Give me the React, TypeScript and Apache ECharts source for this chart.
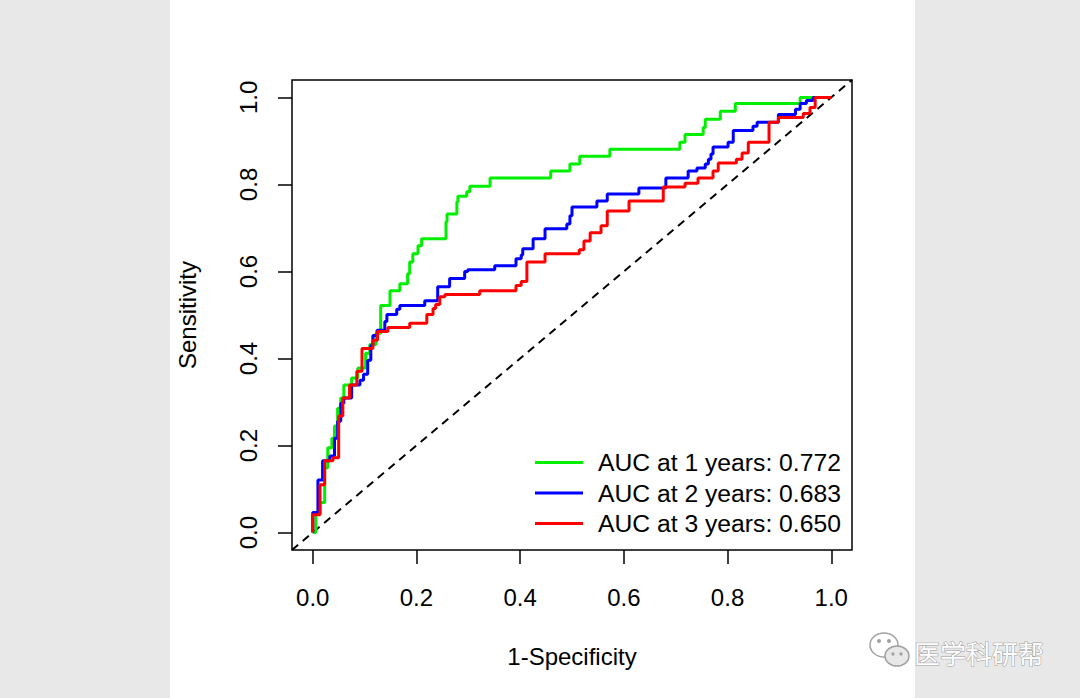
import React, { useEffect, useRef } from "react";
import * as echarts from "echarts";

const FONT = '"Liberation Sans", Arial, Helvetica, sans-serif';

const tickValues = [0, 0.2, 0.4, 0.6, 0.8, 1.0];
const legendLabels = [
  "AUC at 1 years: 0.772",
  "AUC at 2 years: 0.683",
  "AUC at 3 years: 0.650",
];
const seriesColors = ["#00ee00", "#0000ff", "#ff0000"];

// ROC corner points (1-specificity, sensitivity); steps go right, then up
const year1Fpr = [0, 0.006, 0.014, 0.023, 0.029, 0.037, 0.042, 0.048, 0.054, 0.06, 0.075, 0.087, 0.102, 0.11, 0.122, 0.131, 0.149, 0.168, 0.183, 0.187, 0.193, 0.203, 0.21, 0.257, 0.259, 0.278, 0.28, 0.297, 0.303, 0.342, 0.459, 0.496, 0.515, 0.573, 0.708, 0.718, 0.753, 0.757, 0.786, 0.815, 0.94, 1];
const year1Tpr = [0, 0.043, 0.069, 0.149, 0.195, 0.217, 0.245, 0.286, 0.309, 0.339, 0.355, 0.378, 0.412, 0.432, 0.458, 0.522, 0.556, 0.572, 0.595, 0.622, 0.641, 0.659, 0.675, 0.714, 0.732, 0.76, 0.773, 0.783, 0.796, 0.815, 0.831, 0.847, 0.865, 0.881, 0.897, 0.915, 0.931, 0.95, 0.968, 0.986, 1, 1];

const year2Fpr = [0, 0, 0.01, 0.019, 0.033, 0.042, 0.048, 0.054, 0.06, 0.075, 0.091, 0.098, 0.106, 0.112, 0.116, 0.124, 0.139, 0.143, 0.162, 0.168, 0.216, 0.241, 0.264, 0.293, 0.299, 0.351, 0.392, 0.402, 0.405, 0.425, 0.448, 0.49, 0.496, 0.5, 0.548, 0.568, 0.629, 0.681, 0.724, 0.741, 0.757, 0.763, 0.768, 0.772, 0.801, 0.811, 0.849, 0.857, 0.898, 0.931, 0.94, 0.952, 0.965, 1];
const year2Tpr = [0, 0.046, 0.121, 0.165, 0.176, 0.217, 0.256, 0.297, 0.309, 0.339, 0.35, 0.364, 0.396, 0.43, 0.453, 0.465, 0.485, 0.501, 0.513, 0.522, 0.533, 0.565, 0.584, 0.6, 0.604, 0.613, 0.629, 0.638, 0.652, 0.675, 0.698, 0.709, 0.728, 0.748, 0.762, 0.778, 0.792, 0.815, 0.831, 0.838, 0.847, 0.858, 0.87, 0.886, 0.897, 0.924, 0.934, 0.943, 0.961, 0.973, 0.986, 0.993, 1, 1];

const year3Fpr = [0, 0, 0.014, 0.023, 0.039, 0.05, 0.058, 0.071, 0.085, 0.095, 0.116, 0.125, 0.145, 0.187, 0.22, 0.232, 0.237, 0.245, 0.255, 0.322, 0.392, 0.402, 0.413, 0.448, 0.514, 0.523, 0.535, 0.556, 0.568, 0.61, 0.676, 0.718, 0.743, 0.772, 0.782, 0.817, 0.828, 0.84, 0.88, 0.898, 0.946, 0.959, 0.969, 1];
const year3Tpr = [0, 0.041, 0.11, 0.165, 0.172, 0.268, 0.309, 0.339, 0.371, 0.423, 0.442, 0.462, 0.471, 0.481, 0.501, 0.515, 0.524, 0.542, 0.547, 0.556, 0.568, 0.577, 0.622, 0.641, 0.65, 0.67, 0.689, 0.705, 0.739, 0.762, 0.794, 0.803, 0.815, 0.831, 0.849, 0.858, 0.872, 0.897, 0.943, 0.954, 0.963, 0.977, 1, 1];

const diagonal = [-0.04, 1.04];

const zip = (xs: number[], ys: number[]) => xs.map((x, i) => [x, ys[i]]);

export default function App() {
  const ref = useRef<HTMLDivElement>(null);
  useEffect(() => {
    document.body.style.margin = "0";
    if (!ref.current) return;
    const chart = echarts.init(ref.current, undefined, { renderer: "svg" });
    const rocs = [zip(year1Fpr, year1Tpr), zip(year2Fpr, year2Tpr), zip(year3Fpr, year3Tpr)];
    const axisCommon = {
      type: "value" as const,
      min: -0.04,
      max: 1.04,
      axisLine: { show: false, onZero: false },
      splitLine: { show: false },
      axisTick: {
        show: true,
        inside: false,
        length: 14,
        customValues: tickValues,
        lineStyle: { color: "#000", width: 1.5 },
      },
      nameLocation: "middle" as const,
      nameTextStyle: { fontSize: 24, color: "#000", fontFamily: FONT },
    };
    chart.setOption({
      animation: false,
      backgroundColor: "#e8e8e8",
      textStyle: { fontFamily: FONT },
      graphic: [
        {
          type: "rect",
          z: -100,
          shape: { x: 170, y: 0, width: 745, height: 698 },
          style: { fill: "#ffffff" },
        },
        {
          type: "ellipse",
          shape: { cx: 884, cy: 645, rx: 14, ry: 12 },
          style: { fill: "none", stroke: "#a0a0a0", lineWidth: 1.5 },
        },
        {
          type: "ellipse",
          shape: { cx: 897, cy: 656, rx: 12, ry: 10 },
          style: { fill: "#e8e8e8", stroke: "#a0a0a0", lineWidth: 1.5 },
        },
        { type: "circle", shape: { cx: 879, cy: 641, r: 2 }, style: { fill: "#a0a0a0" } },
        { type: "circle", shape: { cx: 889, cy: 641, r: 2 }, style: { fill: "#a0a0a0" } },
        { type: "circle", shape: { cx: 893, cy: 654, r: 1.6 }, style: { fill: "#a0a0a0" } },
        { type: "circle", shape: { cx: 901, cy: 654, r: 1.6 }, style: { fill: "#a0a0a0" } },
        {
          type: "text",
          x: 914,
          y: 652,
          style: {
            text: "医学科研帮",
            font: '26px "Noto Sans CJK SC"',
            fill: "#ffffff",
            stroke: "#9a9a9a",
            lineWidth: 1,
            verticalAlign: "middle",
          },
        },
      ],
      grid: {
        left: 292,
        top: 80,
        width: 560,
        height: 470,
        show: true,
        borderColor: "#000",
        borderWidth: 1.5,
        backgroundColor: "transparent",
      },
      xAxis: {
        ...axisCommon,
        name: "1-Specificity",
        nameGap: 94,
        axisLabel: {
          customValues: tickValues,
          margin: 35,
          fontSize: 24,
          color: "#000",
          fontFamily: FONT,
          formatter: (v: number) => v.toFixed(1),
        },
      },
      yAxis: {
        ...axisCommon,
        name: "Sensitivity",
        nameGap: 93,
        axisLabel: {
          customValues: tickValues,
          margin: 32,
          rotate: 90,
          fontSize: 24,
          color: "#000",
          fontFamily: FONT,
          formatter: (v: number) => v.toFixed(1),
        },
      },
      legend: {
        data: legendLabels.map((n) => ({ name: n })),
        orient: "vertical",
        left: 530,
        top: 445,
        itemWidth: 48,
        itemHeight: 3,
        itemGap: 5.5,
        icon: "rect",
        selectedMode: false,
        textStyle: { fontSize: 24.7, lineHeight: 24, color: "#000", fontFamily: FONT, padding: [0, 0, 0, 10] },
      },
      series: [
        {
          type: "line",
          name: "diagonal",
          data: zip(diagonal, diagonal),
          showSymbol: false,
          symbol: "none",
          lineStyle: { color: "#000", width: 2, type: [8, 6] },
          silent: true,
        },
        ...rocs.map((d, i) => ({
          type: "line",
          name: legendLabels[i],
          data: d,
          step: "end",
          showSymbol: false,
          symbol: "none",
          color: seriesColors[i],
          lineStyle: { color: seriesColors[i], width: 3 },
        })),
      ],
    });
    return () => chart.dispose();
  }, []);
  return <div ref={ref} style={{ width: 1080, height: 698 }} />;
}
